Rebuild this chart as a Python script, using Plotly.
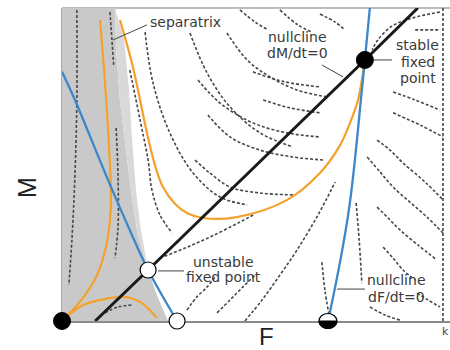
import plotly.graph_objects as go

# ---------------- data (F scaled to carrying capacity k = 1, M scaled 0..1) ----------------
# nullcline dM/dt = 0 (black)
null_M_F = [0.087, 0.226, 0.795, 0.934]
null_M_M = [0.0, 0.163, 0.834, 1.0]

# nullcline dF/dt = 0 (blue), two branches
null_F_left_F = [0.0, 0.034, 0.121, 0.178, 0.226, 0.302]
null_F_left_M = [0.796, 0.706, 0.450, 0.290, 0.163, 0.0]
null_F_right_F = [0.698, 0.703, 0.753, 0.787, 0.795, 0.808]
null_F_right_M = [0.0, 0.026, 0.355, 0.738, 0.834, 1.0]

# highlighted trajectories (orange)
orange_1_F = [0.0, 0.008, 0.047, 0.092, 0.118, 0.128, 0.127, 0.116, 0.100]
orange_1_M = [0.0, 0.010, 0.061, 0.147, 0.252, 0.361, 0.466, 0.706, 0.962]
orange_2_F = [0.152, 0.186, 0.223, 0.244, 0.265, 0.297, 0.328, 0.370, 0.459,
              0.591, 0.677, 0.730, 0.756, 0.777, 0.787, 0.795]
orange_2_M = [0.962, 0.812, 0.601, 0.498, 0.428, 0.374, 0.345, 0.329, 0.332,
              0.387, 0.473, 0.562, 0.633, 0.706, 0.770, 0.834]
orange_3_F = [0.0, 0.055, 0.100, 0.160, 0.205, 0.249]
orange_3_M = [0.0, 0.051, 0.067, 0.077, 0.061, 0.010]

# separatrix (edge of the shaded basin) and the soft band beside it
separatrix_F = [0.139, 0.142, 0.152, 0.168, 0.184, 0.199, 0.226, 0.249, 0.278]
separatrix_M = [1.0, 0.866, 0.706, 0.546, 0.387, 0.275, 0.163, 0.083, 0.0]
band_F = [0.139, 0.163, 0.176, 0.184, 0.194, 0.207, 0.226]
band_M = [1.0, 0.898, 0.738, 0.578, 0.419, 0.291, 0.163]

# flow-field trajectories (gray dashed)
trajectories = [
    ([0.039, 0.039, 0.034, 0.026, 0.018], [0.994, 0.706, 0.466, 0.259, 0.115]),
    ([0.126, 0.131, 0.136], [0.987, 0.898, 0.812]),
    ([0.142, 0.147, 0.147, 0.139], [0.617, 0.466, 0.300, 0.201]),
    ([0.113, 0.147, 0.184], [0.026, 0.045, 0.051]),
    ([0.178, 0.205, 0.226, 0.236, 0.257, 0.289], [0.802, 0.642, 0.514, 0.419, 0.339, 0.281]),
    ([0.218, 0.239, 0.283, 0.344, 0.415, 0.486], [0.923, 0.760, 0.601, 0.473, 0.396, 0.371]),
    ([0.336, 0.381, 0.441, 0.520, 0.606], [0.920, 0.792, 0.684, 0.601, 0.556]),
    ([0.433, 0.486, 0.546, 0.617, 0.696], [0.920, 0.834, 0.780, 0.738, 0.716]),
    ([0.467, 0.507, 0.541], [0.994, 0.955, 0.930]),
    ([0.572, 0.619, 0.656], [0.994, 0.946, 0.923]),
    ([0.357, 0.415, 0.501, 0.591, 0.677], [0.770, 0.696, 0.633, 0.601, 0.588]),
    ([0.383, 0.441, 0.520, 0.606, 0.690], [0.658, 0.588, 0.546, 0.524, 0.514]),
    ([0.349, 0.388, 0.441, 0.520, 0.606], [0.514, 0.473, 0.428, 0.409, 0.403]),
    ([0.501, 0.585, 0.677], [0.796, 0.764, 0.748]),
    ([0.528, 0.598, 0.677], [0.706, 0.681, 0.665]),
    ([0.677, 0.717, 0.743], [0.981, 0.955, 0.930]),
    ([0.257, 0.323, 0.388, 0.467, 0.507], [0.201, 0.233, 0.268, 0.316, 0.342]),
    ([0.328, 0.354, 0.381, 0.402], [0.035, 0.077, 0.109, 0.141]),
    ([0.407, 0.441, 0.475, 0.507], [0.026, 0.067, 0.109, 0.147]),
    ([0.480, 0.525, 0.572, 0.617, 0.672, 0.717], [0.0, 0.067, 0.147, 0.227, 0.339, 0.444]),
    ([0.682, 0.690, 0.701], [0.188, 0.099, 0.019]),
    ([0.772, 0.780, 0.787], [0.377, 0.259, 0.121]),
    ([0.869, 0.927, 0.992], [0.732, 0.706, 0.674]),
    ([0.869, 0.940, 1.0], [0.665, 0.626, 0.588]),
    ([0.827, 0.861, 0.895, 0.953, 1.0], [0.578, 0.546, 0.505, 0.444, 0.387]),
    ([0.801, 0.835, 0.869, 0.913, 0.958, 1.0], [0.524, 0.476, 0.428, 0.380, 0.332, 0.281]),
    ([0.827, 0.856, 0.887, 0.934, 0.984], [0.364, 0.329, 0.291, 0.243, 0.195]),
    ([0.843, 0.869, 0.895, 0.927], [0.236, 0.201, 0.163, 0.131]),
    ([0.932, 0.961, 0.992], [0.089, 0.067, 0.045]),
    ([0.808, 0.848, 0.887], [0.045, 0.019, 0.003]),
    ([0.992, 0.919, 0.866, 0.829, 0.814], [0.987, 0.968, 0.942, 0.898, 0.866]),
    ([0.927, 0.992], [0.930, 0.930]),
    ([1.0, 1.0], [0.0, 1.0]),
]

# fixed points
stable_F = [0.0, 0.795]
stable_M = [0.0, 0.834]
unstable_F = [0.226, 0.302]
unstable_M = [0.163, 0.0]
half_F = 0.698
half_M = 0.0

# labels: text, F, M
labels = [
    ("separatrix", 0.325, 0.955),
    ("nullcline", 0.617, 0.907),
    ("dM/dt=0", 0.617, 0.856),
    ("stable", 0.934, 0.882),
    ("fixed", 0.934, 0.827),
    ("point", 0.934, 0.776),
    ("unstable", 0.423, 0.189),
    ("fixed point", 0.423, 0.141),
    ("nullcline", 0.879, 0.131),
    ("dF/dt=0", 0.879, 0.077),
]
# leader lines: (F pair, M pair)
leaders = [
    ([0.223, 0.134], [0.946, 0.898]),
    ([0.682, 0.738], [0.818, 0.780]),
    ([0.819, 0.866], [0.834, 0.834]),
    ([0.252, 0.320], [0.160, 0.160]),
    ([0.722, 0.795], [0.102, 0.102]),
]

F_MAX = 1.0184

fig = go.Figure()

# shaded basin
fig.add_trace(go.Scatter(
    x=[0.0] + separatrix_F + [0.0],
    y=[1.0] + separatrix_M + [0.0],
    fill="toself", fillcolor="#c9c9c9", mode="lines",
    line=dict(width=0), hoverinfo="skip"))
fig.add_trace(go.Scatter(
    x=band_F + separatrix_F[:7][::-1],
    y=band_M + separatrix_M[:7][::-1],
    fill="toself", fillcolor="#d9d9d9", mode="lines",
    line=dict(width=0), hoverinfo="skip"))

for tf, tm in trajectories:
    fig.add_trace(go.Scatter(x=tf, y=tm, mode="lines",
                             line=dict(color="#474747", width=1.6, dash="3px,2px", shape="spline"),
                             hoverinfo="skip"))

for of, om in [(orange_1_F, orange_1_M), (orange_2_F, orange_2_M), (orange_3_F, orange_3_M)]:
    fig.add_trace(go.Scatter(x=of, y=om, mode="lines",
                             line=dict(color="#f4a12b", width=2.2, shape="spline"),
                             hoverinfo="skip"))

for bf, bm in [(null_F_left_F, null_F_left_M), (null_F_right_F, null_F_right_M)]:
    fig.add_trace(go.Scatter(x=bf, y=bm, mode="lines",
                             line=dict(color="#3b87c9", width=2.3, shape="spline"),
                             hoverinfo="skip"))

fig.add_trace(go.Scatter(x=null_M_F, y=null_M_M, mode="lines",
                         line=dict(color="#1a1a1a", width=3), hoverinfo="skip"))

for lf, lm in leaders:
    fig.add_trace(go.Scatter(x=lf, y=lm, mode="lines",
                             line=dict(color="#444444", width=1), hoverinfo="skip"))

fig.add_trace(go.Scatter(x=stable_F, y=stable_M, mode="markers", cliponaxis=False,
                         marker=dict(color="black", size=17, line=dict(color="black", width=1))))
fig.add_trace(go.Scatter(x=unstable_F, y=unstable_M, mode="markers", cliponaxis=False,
                         marker=dict(color="white", size=16, line=dict(color="black", width=1.2))))

# half-filled fixed point (white top, black bottom); y measured on paper so the
# lower half is not clipped at the bottom of the plot area (M = 0 is paper 0)
fig.add_shape(type="circle", xref="x", yref="paper", xsizemode="pixel", ysizemode="pixel",
              xanchor=half_F, yanchor=half_M, x0=-9, x1=9, y0=-7.5, y1=7.5,
              fillcolor="white", line=dict(color="black", width=1.2), layer="above")
fig.add_shape(type="path", xref="x", yref="paper", xsizemode="pixel", ysizemode="pixel",
              xanchor=half_F, yanchor=half_M,
              path="M -9,0 C -9,-4.14 -4.97,-7.5 0,-7.5 C 4.97,-7.5 9,-4.14 9,0 Z",
              fillcolor="black", line=dict(color="black", width=1), layer="above")

# top border
fig.add_shape(type="line", xref="paper", yref="paper", x0=0, x1=1, y0=1, y1=1,
              line=dict(color="#bdbdbd", width=2), layer="below")

for txt, f, m in labels:
    fig.add_annotation(x=f, y=m, text=txt, showarrow=False,
                       font=dict(family="DejaVu Sans", size=14, color="#3a3a3a"),
                       xanchor="center", yanchor="middle")

fig.add_annotation(xref="paper", yref="paper", x=0.526, y=-0.05, text="F", showarrow=False,
                   xanchor="center", yanchor="middle",
                   font=dict(family="Liberation Sans", size=24, color="#222222"))
fig.add_annotation(xref="paper", yref="paper", x=-0.09, y=0.425, text="M", showarrow=False,
                   xanchor="center", yanchor="middle", textangle=-90,
                   font=dict(family="Liberation Sans", size=25, color="#222222"))
fig.add_annotation(xref="paper", yref="paper", x=0.988, y=-0.035, text="k", showarrow=False,
                   xanchor="center", yanchor="middle",
                   font=dict(family="DejaVu Sans", size=11, color="#444444"))

fig.update_layout(
    width=450, height=350, margin=dict(l=62, r=0, t=8, b=29),
    paper_bgcolor="white", plot_bgcolor="white", showlegend=False, template="none",
    xaxis=dict(range=[0, F_MAX], showgrid=False, zeroline=False, showticklabels=False,
               ticks="", showline=True, linecolor="#8a8a8a", linewidth=2, layer="below traces"),
    yaxis=dict(range=[0, 1], showgrid=False, zeroline=False, showticklabels=False,
               ticks="", showline=True, linecolor="#a8a8a8", linewidth=1, layer="below traces"),
)

fig.write_html("out.html")
